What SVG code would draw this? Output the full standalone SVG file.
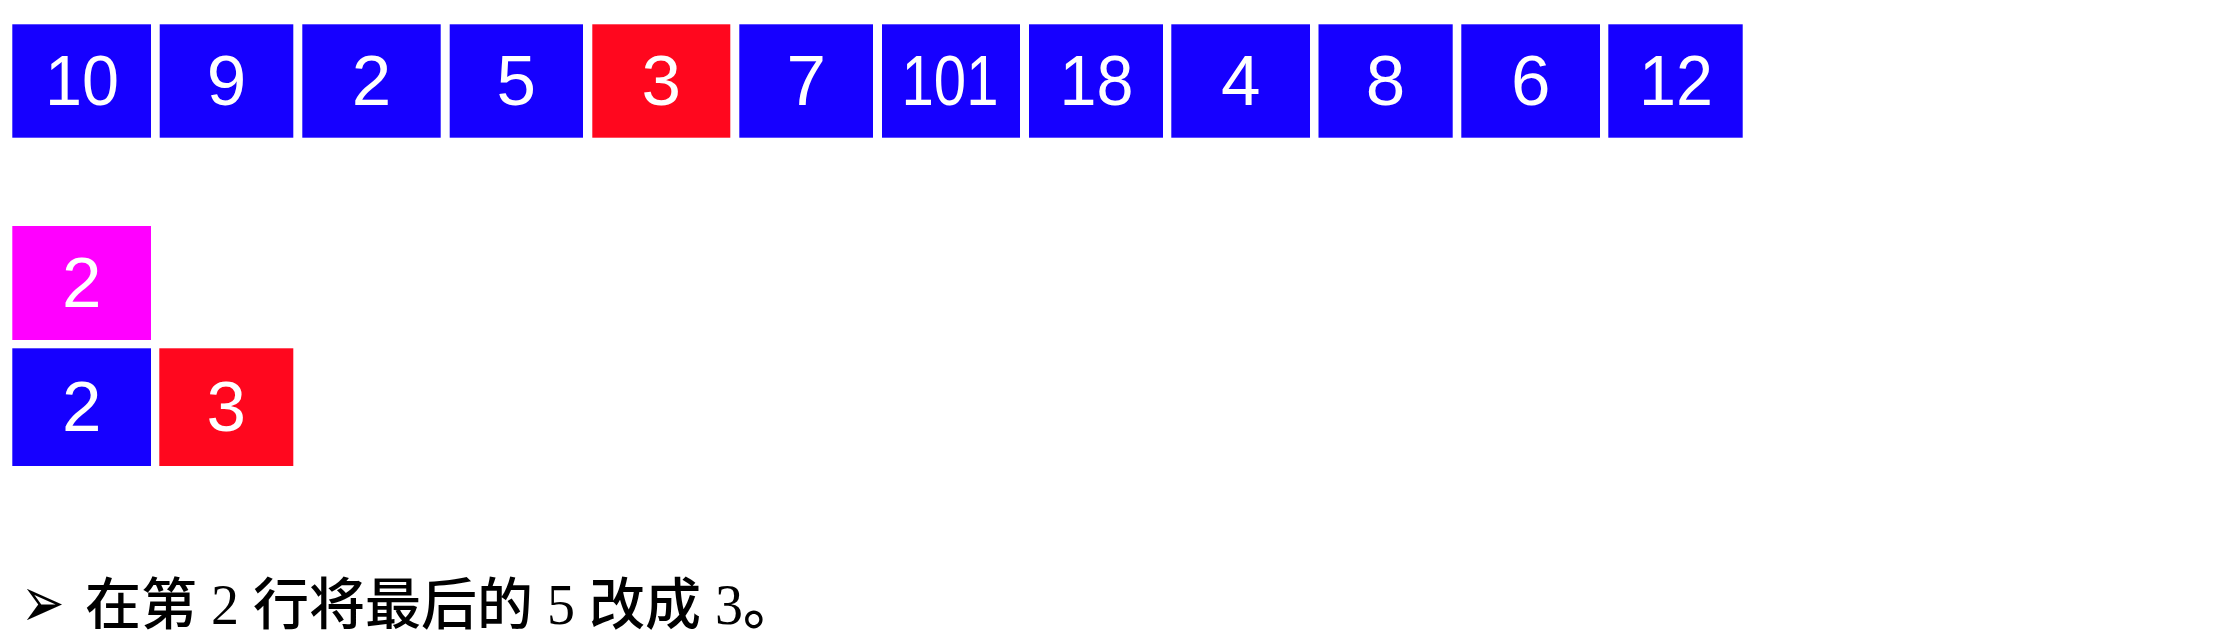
<svg xmlns="http://www.w3.org/2000/svg" width="2232" height="644" viewBox="0 0 2232 644">
<style>
.b{fill:#1600FF}
.r{fill:#FF071E}
.m{fill:#FF00FF}
.t{fill:#FFFFFF;font-family:"Liberation Sans",Arial,sans-serif;font-size:71px;text-anchor:middle}
.cap{fill:#000000;font-family:"Liberation Serif","Noto Sans CJK SC",serif;font-size:56px;font-weight:500}
.bul{fill:#000000;font-family:"DejaVu Sans",sans-serif;font-size:52px}
</style>
<rect width="2232" height="644" fill="#FFFFFF"/>
<g id="row1">
<g id="n1"><rect class="b" x="12.3" y="24.3" width="138.7" height="113.4"/><text class="t" x="82" y="105.3" textLength="74" lengthAdjust="spacingAndGlyphs">10</text></g>
<g id="n2"><rect class="b" x="159.7" y="24.3" width="133.6" height="113.4"/><text class="t" x="226.5" y="105.3">9</text></g>
<g id="n3"><rect class="b" x="302.3" y="24.3" width="138.4" height="113.4"/><text class="t" x="371.5" y="105.3">2</text></g>
<g id="n4"><rect class="b" x="449.7" y="24.3" width="133.3" height="113.4"/><text class="t" x="516.35" y="105.3">5</text></g>
<g id="n5"><rect class="r" x="592.3" y="24.3" width="138" height="113.4"/><text class="t" x="661.3" y="105.3">3</text></g>
<g id="n6"><rect class="b" x="739.3" y="24.3" width="133.7" height="113.4"/><text class="t" x="806.15" y="105.3">7</text></g>
<g id="n7"><rect class="b" x="882" y="24.3" width="138" height="113.4"/><text class="t" x="950" y="105.3" textLength="97" lengthAdjust="spacingAndGlyphs">101</text></g>
<g id="n8"><rect class="b" x="1029" y="24.3" width="134" height="113.4"/><text class="t" x="1096.5" y="105.3" textLength="74" lengthAdjust="spacingAndGlyphs">18</text></g>
<g id="n9"><rect class="b" x="1171.3" y="24.3" width="138.7" height="113.4"/><text class="t" x="1240.65" y="105.3">4</text></g>
<g id="n10"><rect class="b" x="1318.5" y="24.3" width="134.2" height="113.4"/><text class="t" x="1385.6" y="105.3">8</text></g>
<g id="n11"><rect class="b" x="1461.3" y="24.3" width="138.7" height="113.4"/><text class="t" x="1530.65" y="105.3">6</text></g>
<g id="n12"><rect class="b" x="1608.3" y="24.3" width="134.4" height="113.4"/><text class="t" x="1676" y="105.3" textLength="74" lengthAdjust="spacingAndGlyphs">12</text></g>
</g>
<g id="row2">
<g id="m1"><rect class="m" x="12.3" y="226" width="138.7" height="114"/><text class="t" x="81.65" y="306.7">2</text></g>
</g>
<g id="row3">
<g id="s1"><rect class="b" x="12.3" y="348.3" width="138.7" height="117.7"/><text class="t" x="81.65" y="431">2</text></g>
<g id="s2"><rect class="r" x="159.3" y="348.3" width="134" height="117.7"/><text class="t" x="226.3" y="431">3</text></g>
</g>
<g id="connectors"></g>
<g id="caption">
<text class="bul" transform="translate(21,626.5) scale(1,1.38)">➢</text>
<text class="cap" x="85" y="624">在第 2 行将最后的 5 改成 3。</text>
</g>
</svg>
